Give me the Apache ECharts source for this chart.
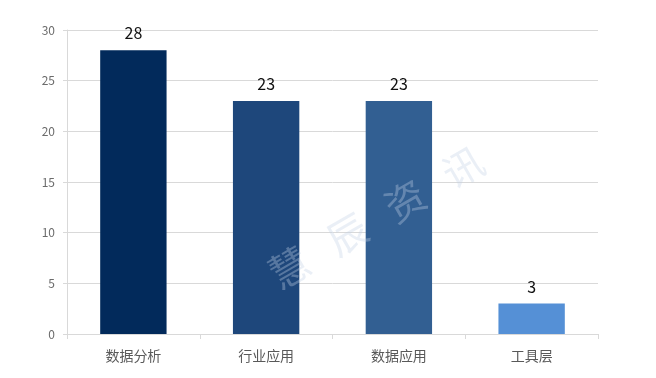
<!DOCTYPE html>
<html>
<head>
<meta charset="utf-8">
<script src="https://cdn.jsdelivr.net/npm/echarts@6/dist/echarts.min.js"></script>
<style>
  html, body { margin: 0; padding: 0; background: #fff; }
  #chart { width: 656px; height: 378px; }
</style>
</head>
<body>
<div id="chart"></div>
<script>
// Categories and counts
const categories = ['数据分析', '行业应用', '数据应用', '工具层'];
const counts = [28, 23, 23, 3];
const barColors = ['#022a5b', '#1e477b', '#325f92', '#5590d6'];
const yTicks = { min: 0, max: 30, interval: 5 };

const chart = echarts.init(document.getElementById('chart'));
const axisGray = '#d9d9d9';
const font = '"Microsoft YaHei", "Noto Sans CJK SC", sans-serif';

chart.setOption({
  animation: false,
  grid: { left: 67, right: 58, top: 30, bottom: 44 },
  graphic: [{
    type: 'text',
    left: 262, top: 140,
    rotation: Math.PI / 6,
    style: {
      text: '慧   辰   资   讯',
      fontSize: 40,
      fontFamily: font,
      fill: 'rgba(195,210,230,0.35)'
    },
    z: 100
  }],
  xAxis: {
    type: 'category',
    data: categories,
    axisLine: { lineStyle: { color: axisGray } },
    axisTick: { show: true, length: 5, lineStyle: { color: axisGray } },
    axisLabel: { color: '#595959', fontSize: 14, margin: 15, fontFamily: font }
  },
  yAxis: {
    type: 'value',
    min: yTicks.min, max: yTicks.max, interval: yTicks.interval,
    axisLine: { show: true, lineStyle: { color: axisGray } },
    axisTick: { show: true, length: 4, lineStyle: { color: axisGray } },
    axisLabel: { color: '#6b6b6b', fontSize: 12, margin: 12, fontFamily: font },
    splitLine: { lineStyle: { color: axisGray } }
  },
  series: [{
    type: 'bar',
    data: counts.map((v, i) => ({ value: v, itemStyle: { color: barColors[i] } })),
    barWidth: '50%',
    z: 3,
    label: {
      show: true,
      position: 'top',
      distance: 9,
      color: '#111',
      fontSize: 16,
      fontFamily: font
    }
  }]
});
</script>
</body>
</html>
